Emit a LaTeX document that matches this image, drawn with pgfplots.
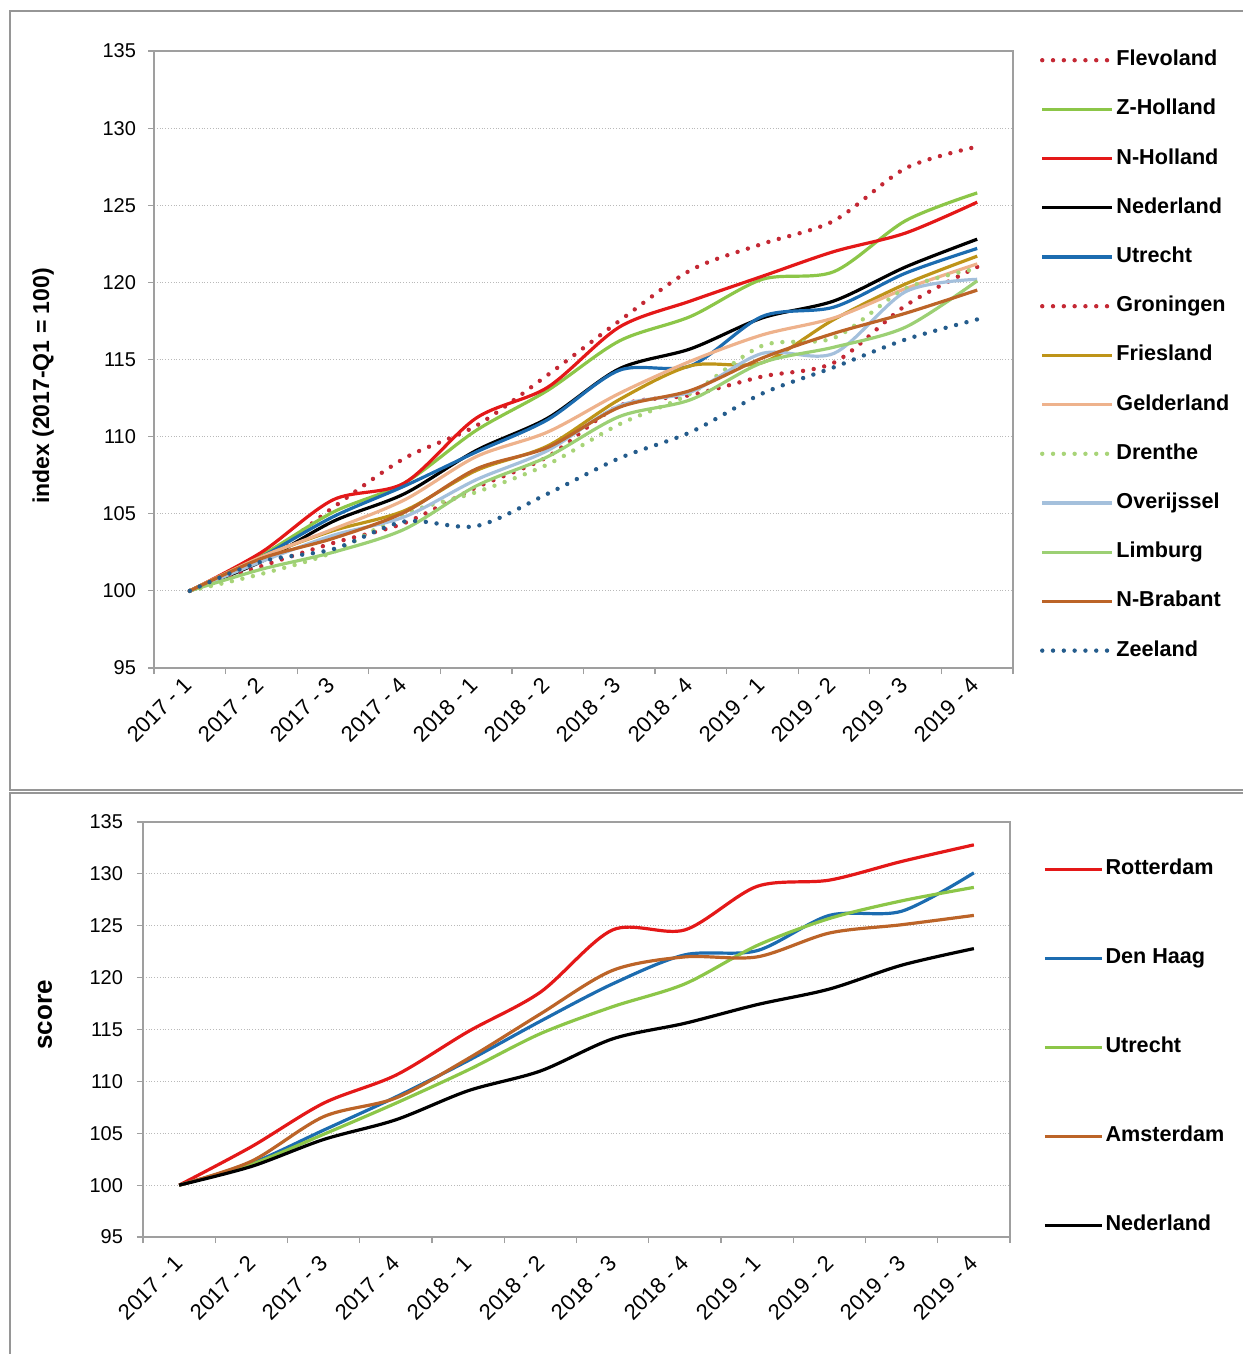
\documentclass[border=0pt]{standalone}
\usepackage{fontspec}
\setmainfont{Liberation Sans}
\usepackage{pgfplots}
\pgfplotsset{compat=1.18}

\definecolor{cRed}{RGB}{228,24,24}
\definecolor{cDotRed}{RGB}{196,40,52}
\definecolor{cGreen}{RGB}{140,198,72}
\definecolor{cBlue}{RGB}{28,108,176}
\definecolor{cGold}{RGB}{190,148,24}
\definecolor{cPeach}{RGB}{238,178,140}
\definecolor{cDotGreen}{RGB}{168,212,120}
\definecolor{cLightBlue}{RGB}{164,192,220}
\definecolor{cLimburg}{RGB}{156,208,116}
\definecolor{cBrown}{RGB}{188,100,40}
\definecolor{cDotBlue}{RGB}{36,92,140}
\definecolor{cFrame}{RGB}{150,150,150}

\pgfplotsset{
  quarters/.style={
    scale only axis,
    xmin=-0.5, xmax=11.5,
    ymin=95, ymax=135,
    ytick={95,100,...,135},
    xtick={-0.5,0.5,...,11.5},
    xticklabels={},
    extra x ticks={0,...,11},
    extra x tick labels={2017 - 1,2017 - 2,2017 - 3,2017 - 4,2018 - 1,2018 - 2,2018 - 3,2018 - 4,2019 - 1,2019 - 2,2019 - 3,2019 - 4},
    extra x tick style={major tick length=0pt, grid=none},
    xtick pos=lower, ytick pos=left,
    tick align=outside,
    major tick length=3pt,
    tick style={draw=gray!75, line width=0.6pt},
    axis line style={draw=gray!75, line width=0.6pt},
    ymajorgrids,
    major grid style={densely dotted, draw=gray!55, line width=0.5pt},
    tick label style={font=\fontsize{10}{12}\selectfont},
    xticklabel style={font=\fontsize{11}{13}\selectfont},
    yticklabel style={xshift=-2.5pt},
    /pgf/number format/assume math mode=true,
    legend cell align=left,
    every axis plot/.append style={smooth, tension=0.5},
  },
  solid line/.style={line width=1.6pt},
  dot line/.style={line width=2.2pt, line cap=round, dash pattern=on 0pt off 5.4pt},
}

\begin{document}
\begin{tikzpicture}
\useasboundingbox (0pt,0pt) rectangle (621pt,-677pt);
\draw[cFrame, line width=0.8pt] (5pt,-5.5pt) rectangle (630pt,-395pt);
\draw[cFrame, line width=0.8pt] (5pt,-396.5pt) rectangle (630pt,-690pt);

% top panel: provinces
\begin{axis}[
  quarters,
  at={(77pt,-334pt)}, anchor=south west,
  width=429.5pt, height=308.5pt,
  xticklabel style={yshift=-4pt, xshift=1.5pt, rotate=45, anchor=east},
  ylabel={index (2017-Q1 = 100)},
  ylabel style={at={(axis description cs:-0.129,0.457)}, anchor=center, rotate=0,
    font=\bfseries\fontsize{11.5}{13}\selectfont},
  legend image code/.code={\draw[#1] (0pt,0pt) -- (35pt,0pt);},
  legend style={draw=none, fill=none, at={(1.031,1.006)}, anchor=north west,
    inner sep=0pt, row sep=12.1pt, column sep=0pt,
    font=\bfseries\fontsize{10.8}{12}\selectfont,
    nodes={inner sep=1pt, text height=8pt, text depth=2.5pt}},
]
\addplot[dot line, cDotRed] coordinates {(0,100) (1,102.0) (2,105.4) (3,108.6) (4,110.7) (5,114.0) (6,117.5) (7,120.8) (8,122.5) (9,124.0) (10,127.4) (11,128.8)};
\addplot[solid line, cGreen] coordinates {(0,100) (1,102.3) (2,105.1) (3,107.0) (4,110.4) (5,113.0) (6,116.2) (7,117.8) (8,120.2) (9,120.7) (10,124.0) (11,125.8)};
\addplot[solid line, cRed] coordinates {(0,100) (1,102.5) (2,105.9) (3,107.0) (4,111.2) (5,113.2) (6,117.1) (7,118.8) (8,120.4) (9,122.0) (10,123.2) (11,125.2)};
\addplot[solid line, black] coordinates {(0,100) (1,101.9) (2,104.5) (3,106.3) (4,109.1) (5,111.2) (6,114.4) (7,115.7) (8,117.7) (9,118.8) (10,121.0) (11,122.8)};
\addplot[solid line, cBlue] coordinates {(0,100) (1,102.2) (2,104.8) (3,106.8) (4,109.0) (5,111.1) (6,114.3) (7,114.6) (8,117.8) (9,118.4) (10,120.6) (11,122.2)};
\addplot[dot line, cDotRed] coordinates {(0,100) (1,101.6) (2,103.1) (3,104.4) (4,106.7) (5,108.7) (6,112.0) (7,112.7) (8,113.9) (9,114.8) (10,118.5) (11,121.0)};
\addplot[solid line, cGold] coordinates {(0,100) (1,102.2) (2,103.9) (3,105.2) (4,107.8) (5,109.4) (6,112.4) (7,114.6) (8,114.8) (9,117.6) (10,119.9) (11,121.7)};
\addplot[solid line, cPeach] coordinates {(0,100) (1,102.2) (2,104.0) (3,105.9) (4,108.7) (5,110.3) (6,112.8) (7,114.9) (8,116.6) (9,117.7) (10,119.6) (11,121.2)};
\addplot[dot line, cDotGreen] coordinates {(0,100) (1,101.1) (2,102.5) (3,105.0) (4,106.4) (5,108.2) (6,110.8) (7,112.8) (8,115.9) (9,116.4) (10,119.6) (11,120.9)};
\addplot[solid line, cLightBlue] coordinates {(0,100) (1,101.9) (2,103.6) (3,104.8) (4,107.2) (5,109.1) (6,112.0) (7,112.9) (8,115.4) (9,115.4) (10,119.4) (11,120.2)};
\addplot[solid line, cLimburg] coordinates {(0,100) (1,101.4) (2,102.5) (3,104.0) (4,106.8) (5,108.7) (6,111.3) (7,112.4) (8,114.8) (9,115.8) (10,117.1) (11,120.1)};
\addplot[solid line, cBrown] coordinates {(0,100) (1,102.1) (2,103.4) (3,105.1) (4,107.9) (5,109.3) (6,111.9) (7,113.0) (8,115.1) (9,116.7) (10,118.0) (11,119.5)};
\addplot[dot line, cDotBlue] coordinates {(0,100) (1,101.9) (2,102.7) (3,104.5) (4,104.2) (5,106.3) (6,108.6) (7,110.3) (8,112.8) (9,114.5) (10,116.3) (11,117.6)};
\legend{Flevoland,Z-Holland,N-Holland,Nederland,Utrecht,Groningen,Friesland,Gelderland,Drenthe,Overijssel,Limburg,N-Brabant,Zeeland}
\end{axis}

% bottom panel: big cities
\begin{axis}[
  quarters,
  at={(71.5pt,-618.5pt)}, anchor=south west,
  width=433.5pt, height=207.5pt,
  xticklabel style={yshift=-8.5pt, xshift=2.5pt, rotate=45, anchor=east},
  ylabel={score},
  ylabel style={at={(axis description cs:-0.113,0.535)}, anchor=center, rotate=0,
    font=\bfseries\fontsize{13}{15}\selectfont},
  yticklabel style={xshift=-1pt},
  legend image code/.code={\draw[#1] (0pt,0pt) -- (28.5pt,0pt);},
  legend style={draw=none, fill=none, at={(1.038,0.917)}, anchor=north west,
    inner sep=0pt, row sep=32pt, column sep=0pt,
    font=\bfseries\fontsize{10.8}{12}\selectfont,
    nodes={inner sep=1pt, text height=8pt, text depth=2.5pt}},
]
\addplot[solid line, cRed] coordinates {(0,100) (1,103.7) (2,107.9) (3,110.6) (4,114.8) (5,118.6) (6,124.6) (7,124.6) (8,128.8) (9,129.4) (10,131.2) (11,132.8)};
\addplot[solid line, cBlue] coordinates {(0,100) (1,102.1) (2,105.3) (3,108.5) (4,112.0) (5,115.8) (6,119.4) (7,122.2) (8,122.6) (9,126.0) (10,126.4) (11,130.1)};
\addplot[solid line, cGreen] coordinates {(0,100) (1,102.0) (2,104.9) (3,107.9) (4,111.1) (5,114.6) (6,117.2) (7,119.4) (8,123.1) (9,125.7) (10,127.4) (11,128.7)};
\addplot[solid line, cBrown] coordinates {(0,100) (1,102.3) (2,106.6) (3,108.4) (4,112.2) (5,116.5) (6,120.7) (7,122.0) (8,122.0) (9,124.3) (10,125.1) (11,126.0)};
\addplot[solid line, black] coordinates {(0,100) (1,101.8) (2,104.4) (3,106.3) (4,109.1) (5,111.0) (6,114.1) (7,115.6) (8,117.4) (9,118.9) (10,121.2) (11,122.8)};
\legend{Rotterdam,Den Haag,Utrecht,Amsterdam,Nederland}
\end{axis}
\end{tikzpicture}
\end{document}
